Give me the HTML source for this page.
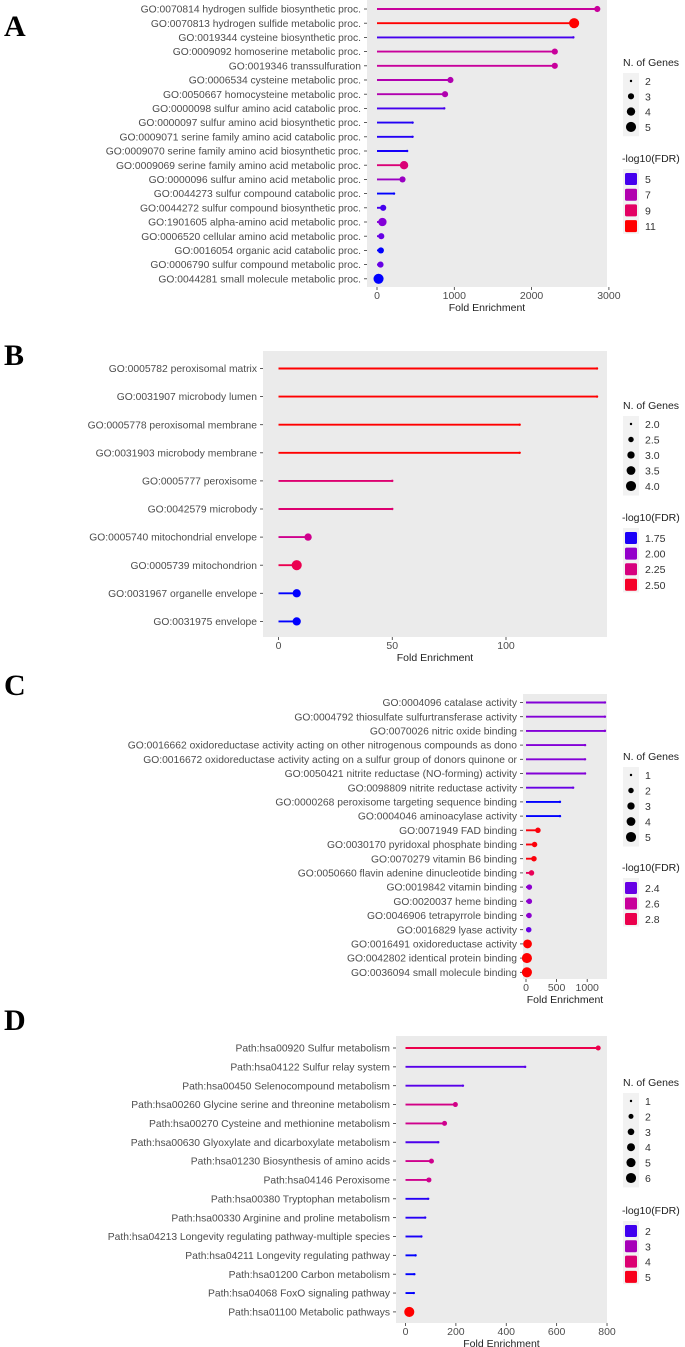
<!DOCTYPE html>
<html><head><meta charset="utf-8"><style>
html,body{margin:0;padding:0;background:#fff;}
svg{display:block;}
text{font-family:"Liberation Sans",sans-serif;}
</style></head><body>
<svg id="fig" width="685" height="1347" viewBox="0 0 685 1347" xmlns="http://www.w3.org/2000/svg"></svg>
<script>
// ---------- Panel A data ----------
const aLabels=["GO:0070814 hydrogen sulfide biosynthetic proc.","GO:0070813 hydrogen sulfide metabolic proc.","GO:0019344 cysteine biosynthetic proc.","GO:0009092 homoserine metabolic proc.","GO:0019346 transsulfuration","GO:0006534 cysteine metabolic proc.","GO:0050667 homocysteine metabolic proc.","GO:0000098 sulfur amino acid catabolic proc.","GO:0000097 sulfur amino acid biosynthetic proc.","GO:0009071 serine family amino acid catabolic proc.","GO:0009070 serine family amino acid biosynthetic proc.","GO:0009069 serine family amino acid metabolic proc.","GO:0000096 sulfur amino acid metabolic proc.","GO:0044273 sulfur compound catabolic proc.","GO:0044272 sulfur compound biosynthetic proc.","GO:1901605 alpha-amino acid metabolic proc.","GO:0006520 cellular amino acid metabolic proc.","GO:0016054 organic acid catabolic proc.","GO:0006790 sulfur compound metabolic proc.","GO:0044281 small molecule metabolic proc."];
const aFold=[2850,2550,2540,2300,2300,950,880,870,460,460,390,350,330,220,80,70,55,50,45,20];
const aGenes=[3,5,2,3,3,3,3,2,2,2,2,4,3,2,3,4,3,3,3,5];
const aFdr=[7.5,11,5,7.5,7.5,7,7,5,4.5,4.5,4.3,8.5,6.5,4,5,6,5.5,4,5.5,4];
const aXTicks=[0,1000,2000,3000];
const aSizeTicks=[2,3,4,5];
const aFdrTicks=[5,7,9,11];
// ---------- Panel B data ----------
const bLabels=["GO:0005782 peroxisomal matrix","GO:0031907 microbody lumen","GO:0005778 peroxisomal membrane","GO:0031903 microbody membrane","GO:0005777 peroxisome","GO:0042579 microbody","GO:0005740 mitochondrial envelope","GO:0005739 mitochondrion","GO:0031967 organelle envelope","GO:0031975 envelope"];
const bFold=[140,140,106,106,50,50,13,8,8,8];
const bGenes=[2,2,2,2,2,2,3,4,3.3,3.3];
const bFdr=[2.62,2.62,2.62,2.62,2.3,2.3,2.2,2.4,1.7,1.7];
const bXTicks=[0,50,100];
const bSizeTicks=["2.0","2.5","3.0","3.5","4.0"];
const bFdrTicks=["1.75","2.00","2.25","2.50"];
// ---------- Panel C data ----------
const cLabels=["GO:0004096 catalase activity","GO:0004792 thiosulfate sulfurtransferase activity","GO:0070026 nitric oxide binding","GO:0016662 oxidoreductase activity acting on other nitrogenous compounds as dono","GO:0016672 oxidoreductase activity acting on a sulfur group of donors quinone or","GO:0050421 nitrite reductase (NO-forming) activity","GO:0098809 nitrite reductase activity","GO:0000268 peroxisome targeting sequence binding","GO:0004046 aminoacylase activity","GO:0071949 FAD binding","GO:0030170 pyridoxal phosphate binding","GO:0070279 vitamin B6 binding","GO:0050660 flavin adenine dinucleotide binding","GO:0019842 vitamin binding","GO:0020037 heme binding","GO:0046906 tetrapyrrole binding","GO:0016829 lyase activity","GO:0016491 oxidoreductase activity","GO:0042802 identical protein binding","GO:0036094 small molecule binding"];
const cFold=[1290,1290,1290,965,965,965,770,555,555,195,140,130,90,55,55,50,45,25,15,15];
const cGenes=[1,1,1,1,1,1,1,1,1,2,2,2,2,2,2,2,2,4,5,5];
const cFdr=[2.45,2.45,2.45,2.45,2.45,2.45,2.4,2.25,2.25,2.93,2.93,2.93,2.78,2.47,2.47,2.47,2.4,2.95,2.95,2.95];
const cXTicks=[0,500,1000];
const cSizeTicks=[1,2,3,4,5];
const cFdrTicks=["2.4","2.6","2.8"];
// ---------- Panel D data ----------
const dLabels=["Path:hsa00920 Sulfur metabolism","Path:hsa04122 Sulfur relay system","Path:hsa00450 Selenocompound metabolism","Path:hsa00260 Glycine serine and threonine metabolism","Path:hsa00270 Cysteine and methionine metabolism","Path:hsa00630 Glyoxylate and dicarboxylate metabolism","Path:hsa01230 Biosynthesis of amino acids","Path:hsa04146 Peroxisome","Path:hsa00380 Tryptophan metabolism","Path:hsa00330 Arginine and proline metabolism","Path:hsa04213 Longevity regulating pathway-multiple species","Path:hsa04211 Longevity regulating pathway","Path:hsa01200 Carbon metabolism","Path:hsa04068 FoxO signaling pathway","Path:hsa01100 Metabolic pathways"];
const dFold=[765,475,228,198,155,130,103,93,90,78,63,40,35,33,15];
const dGenes=[2,1,1,2,2,1,2,2,1,1,1,1,1,1,6];
const dFdr=[4.5,2.2,2.2,3.7,3.6,2.1,3.6,3.6,1.8,1.8,1.7,1.5,1.5,1.5,5.3];
const dXTicks=[0,200,400,600,800];
const dSizeTicks=[1,2,3,4,5,6];
const dFdrTicks=[2,3,4,5];

const NS="http://www.w3.org/2000/svg";
const svg=document.getElementById('fig');
function mk(tag,attrs,parent){const e=document.createElementNS(NS,tag);for(const k in attrs)e.setAttribute(k,attrs[k]);(parent||svg).appendChild(e);return e;}
const stops=[[0,[0,0,255]],[0.25,[120,0,225]],[0.5,[200,0,155]],[0.75,[232,0,90]],[1,[255,0,0]]];
function colorOf(v,lo,hi){let t=(v-lo)/(hi-lo);t=Math.max(0,Math.min(1,t));for(let i=1;i<stops.length;i++){if(t<=stops[i][0]){const a=stops[i-1],b=stops[i];const u=(t-a[0])/(b[0]-a[0]);const c=a[1].map((x,j)=>Math.round(x+(b[1][j]-x)*u));return `rgb(${c[0]},${c[1]},${c[2]})`;}}return 'rgb(255,0,0)';}

function panel(id,letter,letterY,labels,fold,genes,fdr,xTicks,sizeTicks,fdrTicks,g){
  const grp=mk('g',{});
  
  
  const L=mk('text',{x:4,y:letterY,'font-size':30,'font-weight':'bold',fill:'#000',style:'font-family:"Liberation Serif",serif'},grp);
  L.textContent=letter;
  
  
  const bg=mk('rect',{x:g.left,y:g.top,width:g.right-g.left,height:g.bottom-g.top,fill:'#ebebeb'},grp);
  
  
  const x=v=>g.x0+(v-g.xMin)*g.scale;
  const y=i=>g.y0+i*g.step;
  const sMin=g.sMin,sMax=g.sMax;
  const r=s=>Math.sqrt(1.5+(s-sMin)/(sMax-sMin)*24);
  xTicks.forEach(t=>{
    const tx=mk('text',{x:x(t),y:g.bottom+12,'font-size':10.5,fill:'#4d4d4d','text-anchor':'middle'},grp);
    tx.textContent=t;
    
    
    mk('line',{x1:x(t),x2:x(t),y1:g.bottom,y2:g.bottom+3,stroke:'#333','stroke-width':0.8},grp);
  });
  const xt=mk('text',{x:(g.left+g.right)/2,y:g.bottom+24,'font-size':10.5,fill:'#222','text-anchor':'middle'},grp);
  xt.textContent='Fold Enrichment';
  
  
  labels.forEach((lab,i)=>{
    const t=mk('text',{x:g.left-6,y:y(i)+3.6,'font-size':10.3,fill:'#4d4d4d','text-anchor':'end'},grp);
    t.textContent=lab;
    
    
    mk('line',{x1:g.left-3,x2:g.left,y1:y(i),y2:y(i),stroke:'#333','stroke-width':0.8},grp);
    const col=colorOf(fdr[i],g.fLo,g.fHi);
    const ln=mk('line',{x1:x(0),x2:x(fold[i]),y1:y(i),y2:y(i),stroke:col,'stroke-width':1.9},grp);
    
    
    const c=mk('circle',{cx:x(fold[i]),cy:y(i),r:r(genes[i]),fill:col},grp);
    
    
  });
  const lx=g.legX;
  const st=mk('text',{x:lx,y:g.legY,'font-size':10.5,fill:'#222'},grp);
  st.textContent='N. of Genes';
  
  
  mk('rect',{x:lx,y:g.legY+7,width:16,height:sizeTicks.length*g.legStep+2,fill:'#f2f2f2'},grp);
  sizeTicks.forEach((s,i)=>{
    const yy=g.legY+15+i*g.legStep;
    const c=mk('circle',{cx:lx+8,cy:yy,r:r(parseFloat(s)),fill:'#000'},grp);
    
    
    const t=mk('text',{x:lx+22,y:yy+4,'font-size':10.5,fill:'#333'},grp);
    t.textContent=s;
    
    
  });
  const fy=g.fdrY;
  const ft=mk('text',{x:lx-1,y:fy,'font-size':10.5,fill:'#222'},grp);
  ft.textContent='-log10(FDR)';
  
  
  mk('rect',{x:lx,y:fy+7,width:16,height:fdrTicks.length*g.fdrStep+2,fill:'#f2f2f2'},grp);
  fdrTicks.forEach((f,i)=>{
    const yy=fy+17+i*g.fdrStep;
    const s=mk('rect',{x:lx+2,y:yy-6,width:12,height:12,rx:1.5,fill:colorOf(parseFloat(f),g.fLo,g.fHi)},grp);
    
    
    const t=mk('text',{x:lx+22,y:yy+4,'font-size':10.5,fill:'#333'},grp);
    t.textContent=f;
    
    
  });
}
panel('a','A',36,aLabels,aFold,aGenes,aFdr,aXTicks,aSizeTicks,aFdrTicks,
 {left:367,right:607,top:0,bottom:287,x0:377,xMin:0,scale:0.0773,y0:9,step:14.2,sMin:2,sMax:5,fLo:4,fHi:11,legX:623,legY:66,legStep:15.3,fdrY:162,fdrStep:15.7});
panel('b','B',365,bLabels,bFold,bGenes,bFdr,bXTicks,bSizeTicks,bFdrTicks,
 {left:263,right:607,top:351,bottom:637,x0:278.5,xMin:0,scale:2.275,y0:368.5,step:28.1,sMin:2,sMax:4,fLo:1.7,fHi:2.6,legX:623,legY:409,legStep:15.5,fdrY:521,fdrStep:15.6});
panel('c','C',695,cLabels,cFold,cGenes,cFdr,cXTicks,cSizeTicks,cFdrTicks,
 {left:523,right:607,top:694,bottom:979,x0:526,xMin:0,scale:0.0612,y0:702.5,step:14.2,sMin:1,sMax:5,fLo:2.25,fHi:2.95,legX:623,legY:760,legStep:15.5,fdrY:871,fdrStep:15.5});
panel('d','D',1030,dLabels,dFold,dGenes,dFdr,dXTicks,dSizeTicks,dFdrTicks,
 {left:396,right:607,top:1036,bottom:1323,x0:405.5,xMin:0,scale:0.2519,y0:1048,step:18.85,sMin:1,sMax:6,fLo:1.5,fHi:5.3,legX:623,legY:1086,legStep:15.4,fdrY:1214,fdrStep:15.3});
</script>
</body></html>
